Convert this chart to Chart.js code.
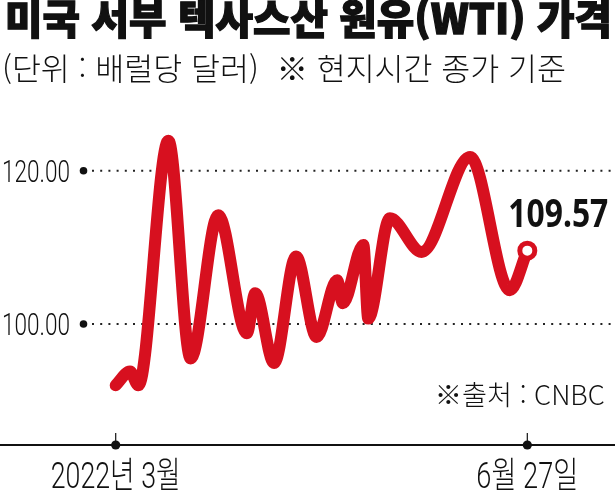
<!DOCTYPE html>
<html lang="ko">
<head>
<meta charset="utf-8">
<script src="https://cdn.jsdelivr.net/npm/chart.js@4/dist/chart.umd.min.js"></script>
<style>
  body { margin: 0; background: #fff; }
  #wrap { position: relative; width: 615px; height: 493px; overflow: hidden; }
  #chart { position: absolute; left: 0; top: 0; }
  .txt { position: absolute; white-space: nowrap; line-height: 1; color: #111;
         font-family: "Noto Sans CJK KR", sans-serif; display: inline-block; }
  #title { left: 5px; top: -4px; font-size: 41px; font-weight: 900; transform-origin: left top;
           -webkit-text-stroke: 1.3px #111; }
  #sub { left: 2px; top: 51px; font-size: 31px; font-weight: 300; transform-origin: left top; }
  #source { right: 10px; top: 380px; font-size: 27px; font-weight: 300; transform-origin: right top; }
</style>
</head>
<body>
<div id="wrap">
  <canvas id="chart" width="615" height="493"></canvas>
  <div class="txt" id="title">미국 서부 텍사스산 원유(WTI) 가격</div>
  <div class="txt" id="sub">(단위 : 배럴당 달러)&nbsp;&nbsp;※ 현지시간 종가 기준</div>
  <div class="txt" id="source">※출처 : CNBC</div>
</div>
<script>
// days since start of the window (2022-03 ... 06-27), WTI close in $/bbl
const days = [0, 4.1, 6.5, 15.1, 21.5, 29.4, 37.6, 40, 45.4, 51.7, 57.6, 63.5, 65.1, 71, 72.4, 78.6, 87.7, 101.6, 113, 118];
const prices = [92.0, 93.8, 92.0, 123.9, 95.5, 114.2, 98.8, 104.0, 94.9, 108.8, 98.3, 105.7, 102.7, 110.3, 100.7, 113.8, 109.4, 121.8, 104.4, 109.57];
const yTicks = [100, 120];
const xTickDays = [0, 118];
const xTickLabels = ['2022년 3월', '6월 27일'];

const RED = '#d7101f';

// squeeze text into a given width (newspaper fonts are condensed)
function fitHtml(id, w) {
    const el = document.getElementById(id);
    const nat = el.getBoundingClientRect().width;
    el.style.transform = 'scaleX(' + (w / nat) + ')';
}
fitHtml('title', 607);
fitHtml('sub', 564);
fitHtml('source', 170);

function fillFit(ctx, text, x, y, width, align) {
    const nat = ctx.measureText(text).width;
    ctx.save();
    ctx.translate(x, y);
    ctx.scale(width / nat, 1);
    ctx.textAlign = align;
    ctx.fillText(text, 0, 0);
    ctx.restore();
}

const decor = {
    id: 'decor',
    beforeDatasetsDraw(chart) {
        const ctx = chart.ctx;
        const xs = chart.scales.x, ys = chart.scales.y;
        const area = chart.chartArea;

        // y reference lines with dot + label
        yTicks.forEach(v => {
            const py = ys.getPixelForValue(v);
            ctx.save();
            ctx.strokeStyle = '#222';
            ctx.lineWidth = 2;
            ctx.setLineDash([2, 6.2]);
            ctx.beginPath();
            ctx.moveTo(92, py);
            ctx.lineTo(615, py);
            ctx.stroke();
            ctx.setLineDash([]);
            ctx.fillStyle = '#111';
            ctx.beginPath();
            ctx.arc(83.5, py, 3.8, 0, Math.PI * 2);
            ctx.fill();
            ctx.font = '300 31.5px Roboto, "Liberation Sans", sans-serif';
            ctx.textBaseline = 'alphabetic';
            fillFit(ctx, v.toFixed(2), 70, py + 11.2, 68, 'right');
            ctx.restore();
        });

        // x axis
        const by = area.bottom;
        ctx.save();
        ctx.strokeStyle = '#111';
        ctx.lineWidth = 2;
        ctx.beginPath();
        ctx.moveTo(0, by);
        ctx.lineTo(615, by);
        ctx.stroke();
        const widths = [130, 102];
        xTickDays.forEach((d, i) => {
            const px = xs.getPixelForValue(d);
            ctx.lineWidth = 1.2;
            ctx.beginPath();
            ctx.moveTo(px, by - 12);
            ctx.lineTo(px, by);
            ctx.stroke();
            ctx.fillStyle = '#111';
            ctx.beginPath();
            ctx.arc(px, by, 4.6, 0, Math.PI * 2);
            ctx.fill();
            ctx.font = '300 36px Roboto, "Noto Sans CJK KR", sans-serif';
            ctx.textBaseline = 'alphabetic';
            fillFit(ctx, xTickLabels[i], px, by + 43, widths[i], 'center');
        });
        ctx.restore();
    },
    afterDatasetsDraw(chart) {
        const ctx = chart.ctx;
        const meta = chart.getDatasetMeta(0);
        const last = meta.data[meta.data.length - 1];
        ctx.save();
        ctx.fillStyle = '#111';
        ctx.font = 'bold 40px "Noto Sans", sans-serif';
        ctx.textBaseline = 'alphabetic';
        fillFit(ctx, prices[prices.length - 1].toFixed(2), last.x - 19, last.y - 24, 100, 'left');
        ctx.restore();
    }
};

new Chart(document.getElementById('chart'), {
    type: 'line',
    data: {
        datasets: [{
            data: days.map((d, i) => ({ x: d, y: prices[i] })),
            borderColor: RED,
            borderWidth: 12,
            borderCapStyle: 'round',
            borderJoinStyle: 'round',
            cubicInterpolationMode: 'monotone',
            pointRadius: c => c.dataIndex === days.length - 1 ? 7.5 : 0,
            pointBackgroundColor: '#fff',
            pointBorderColor: RED,
            pointBorderWidth: 5,
            clip: false
        }]
    },
    options: {
        responsive: false,
        animation: false,
        devicePixelRatio: 1,
        events: [],
        layout: { autoPadding: false, padding: { top: 109, bottom: 48, left: 0, right: 0 } },
        plugins: { legend: { display: false }, tooltip: { enabled: false } },
        scales: {
            x: { type: 'linear', min: -33.17, max: 143.14, display: false },
            y: { min: 84.21, max: 128.05, display: false }
        }
    },
    plugins: [decor]
});
</script>
</body>
</html>
